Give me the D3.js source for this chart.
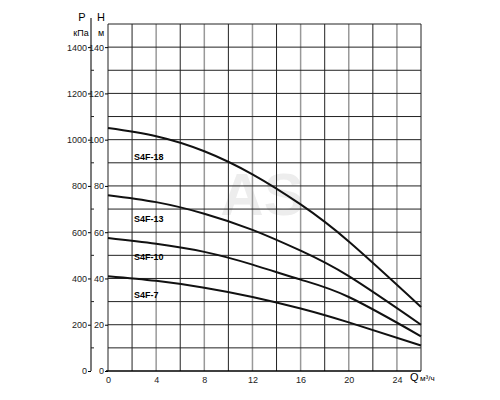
<!DOCTYPE html>
<html><head><meta charset="utf-8">
<script src="https://cdn.jsdelivr.net/npm/d3@7"></script>
<style>body{margin:0;background:#fff}text{font-family:"Liberation Sans",Arial,sans-serif}</style>
</head><body>
<script>
var qTicks = [0, 4, 8, 12, 16, 20, 24];
var hTicks = [0, 20, 40, 60, 80, 100, 120, 140];
var pTicks = [0, 200, 400, 600, 800, 1000, 1200, 1400];
var flow = [0, 4, 8, 12, 16, 20, 26];
var series = [
  {name: 'S4F-18', h: [105, 101.5, 95, 85, 72, 56, 27.7], lx: 1.5, ly: 93},
  {name: 'S4F-13', h: [76, 73, 68, 61, 52, 41, 20], lx: 1.5, ly: 66},
  {name: 'S4F-10', h: [57.5, 55, 51.5, 46, 39.5, 32, 15], lx: 1.5, ly: 49.5},
  {name: 'S4F-7', h: [41, 39, 36, 32, 27, 21, 11], lx: 1.5, ly: 33.5}
];

var svg = d3.select('body').append('svg').attr('width', 500).attr('height', 400);
var x = d3.scaleLinear().domain([0, 26]).range([108, 421]);
var y = d3.scaleLinear().domain([0, 150]).range([371, 24]);

svg.append('text').attr('x', 262).attr('y', 215).attr('text-anchor', 'middle')
  .style('font-size', '60px').style('font-weight', 'bold').style('fill', '#ededed').text('AS');

var grid = svg.append('g');
d3.range(0, 27, 2).forEach(function (q) {
  grid.append('line').attr('x1', x(q)).attr('x2', x(q)).attr('y1', y(0)).attr('y2', y(150))
    .style('stroke', q % 4 === 0 && q > 0 ? '#999' : '#222').style('stroke-width', q % 4 === 0 && q > 0 ? 1.5 : 1);
});
d3.range(10, 151, 10).forEach(function (h) {
  grid.append('line').attr('x1', x(0)).attr('x2', x(26)).attr('y1', y(h)).attr('y2', y(h))
    .style('stroke', '#222').style('stroke-width', 1);
});
grid.append('line').attr('x1', x(0) - 2).attr('x2', x(26)).attr('y1', y(0)).attr('y2', y(0))
  .style('stroke', '#000').style('stroke-width', 1.5);

function styleAxis(g) {
  g.select('.domain').remove();
  g.selectAll('text').style('font-size', '9px').style('fill', '#222').style('font-family', '"Liberation Sans",Arial,sans-serif');
}

// H axis
svg.append('g').attr('transform', 'translate(' + x(0) + ',0)')
  .call(d3.axisLeft(y).tickValues(hTicks).tickSize(3).tickPadding(1).tickFormat(d3.format('d')))
  .call(styleAxis);

// P axis
var py = d3.scaleLinear().domain([0, 1500]).range([371, 24]);
var pAx = svg.append('g').attr('transform', 'translate(91,0)');
pAx.call(d3.axisLeft(py).tickValues(pTicks).tickSize(3).tickPadding(1).tickFormat(d3.format('d')))
  .call(styleAxis);
pAx.append('line').attr('x1', 0).attr('x2', 0).attr('y1', 18).attr('y2', 371).style('stroke', '#222').style('stroke-width', 1.2);
d3.range(100, 1400, 200).forEach(function (p) {
  pAx.append('line').attr('x1', 0).attr('x2', 3).attr('y1', py(p)).attr('y2', py(p)).style('stroke', '#222');
});

// Q axis
svg.append('g').attr('transform', 'translate(0,' + y(0) + ')')
  .call(d3.axisBottom(x).tickValues(qTicks).tickSize(0).tickPadding(6))
  .call(styleAxis);

svg.append('text').attr('x', 82).attr('y', 21).attr('text-anchor', 'middle').style('font-size', '11px').text('P');
svg.append('text').attr('x', 81).attr('y', 36).attr('text-anchor', 'middle').style('font-size', '9px').text('кПа');
svg.append('text').attr('x', 101).attr('y', 21).attr('text-anchor', 'middle').style('font-size', '11px').text('H');
svg.append('text').attr('x', 101).attr('y', 36).attr('text-anchor', 'middle').style('font-size', '9px').text('м');
svg.append('text').attr('x', 410).attr('y', 381).style('font-size', '11px').text('Q');
svg.append('text').attr('x', 420).attr('y', 381).style('font-size', '8px').text('м³/ч');

var line = d3.line().x(function (d, i) { return x(flow[i]); }).y(function (d) { return y(d); }).curve(d3.curveNatural);
series.forEach(function (s) {
  svg.append('path').attr('d', line(s.h)).style('fill', 'none').style('stroke', '#111').style('stroke-width', 2);
  svg.append('text').attr('x', x(s.lx) + 8).attr('y', y(s.ly) + 4).style('font-size', '9px').style('font-weight', 'bold').text(s.name);
});
</script>
</body></html>
